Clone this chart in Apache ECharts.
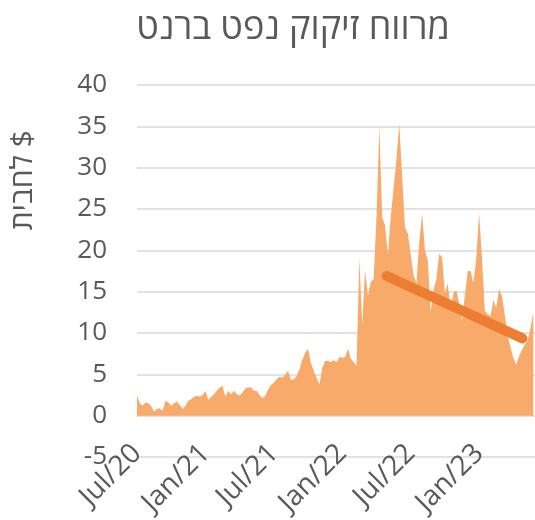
<!DOCTYPE html>
<html>
<head>
<meta charset="utf-8">
<script src="https://cdn.jsdelivr.net/npm/echarts@6/dist/echarts.min.js"></script>
<style>
  html, body { margin: 0; padding: 0; background: #fff; }
  #main { width: 535px; height: 520px; }
</style>
</head>
<body>
<div id="main"></div>
<script>
// months since Jul/20, one sample every quarter month
var sampleStep = 0.25;
var tickMonths = [0, 6, 12, 18, 24, 30];
var tickLabels = ['Jul/20', 'Jan/21', 'Jul/21', 'Jan/22', 'Jul/22', 'Jan/23'];

// crack spread, $ per barrel
var spread = [
  2.4, 1.5, 1.2, 1.6, 1.5, 1.1, 0.5, 0.8, 0.9, 0.6,
  1.8, 1.6, 1.2, 1.5, 1.7, 1.3, 0.8, 1.2, 1.8, 2.0,
  2.3, 2.4, 2.3, 2.5, 3.0, 1.9, 2.3, 2.6, 3.0, 3.4,
  3.6, 2.3, 3.0, 2.6, 3.0, 2.6, 2.4, 2.8, 3.3, 3.4,
  3.4, 3.0, 3.0, 2.5, 2.1, 2.4, 3.2, 3.7, 4.0, 4.4,
  4.7, 4.6, 5.0, 5.4, 4.3, 4.4, 4.8, 5.6, 6.8, 7.6,
  8.1, 6.4, 5.4, 4.6, 3.8, 5.8, 6.6, 6.6, 6.5, 6.7,
  6.5, 7.1, 7.0, 7.1, 8.1, 6.9, 6.5, 6.0, 19.0, 11.0,
  17.6, 14.5, 16.2, 16.5, 24.0, 35.0, 24.0, 23.0, 19.5, 24.0,
  27.5, 31.0, 35.3, 28.9, 22.8, 22.0, 19.5, 17.0, 16.0, 21.0,
  24.5, 20.0, 18.8, 12.5, 15.2, 16.5, 19.6, 19.2, 14.8, 16.0,
  12.9, 14.8, 15.2, 13.5, 11.5, 14.5, 17.5, 17.5, 16.0, 19.0,
  24.5, 19.0, 12.7, 12.3, 12.0, 14.0, 13.0, 15.3, 14.5, 12.2,
  9.6, 8.3, 7.0, 6.2, 7.2, 7.9, 8.6, 9.1, 10.5, 12.5
];

// trend line end points [month, value]
var trendStart = [21.9, 16.9];
var trendEnd = [33.8, 9.35];

var yTicks = { min: -5, max: 40, step: 5 };
var xMax = 34.9;

var areaData = spread.map(function (v, i) { return [i * sampleStep, v]; });

var myChart = echarts.init(document.getElementById('main'));
var txt = '#595959';
var font = '"Open Sans", "DejaVu Sans", sans-serif';

myChart.setOption({
  animation: false,
  title: {
    text: 'מרווח זיקוק נפט ברנט',
    left: 288,
    textAlign: 'center',
    top: 6,
    textStyle: { color: txt, fontSize: 36, fontWeight: 'normal', fontFamily: font }
  },
  grid: { left: 137, right: 0, top: 85, bottom: 63, outerBoundsMode: 'none' },
  graphic: [{
    type: 'text',
    left: 8,
    top: 130,
    rotation: Math.PI / 2,
    style: { text: 'לחבית $', fill: txt, fontSize: 30, fontFamily: font }
  }],
  xAxis: {
    type: 'value',
    min: 0,
    max: xMax,
    axisLine: { show: false },
    axisTick: { show: false },
    splitLine: { show: false },
    axisLabel: {
      customValues: tickMonths,
      rotate: 45,
      margin: -8,
      color: txt,
      fontSize: 28,
      fontFamily: font,
      formatter: function (v) {
        var k = tickMonths.indexOf(Math.round(v));
        return k >= 0 ? tickLabels[k] : '';
      }
    }
  },
  yAxis: {
    type: 'value',
    min: yTicks.min,
    max: yTicks.max,
    interval: yTicks.step,
    axisLine: { show: false },
    axisTick: { show: false },
    axisLabel: { color: txt, fontSize: 26, fontFamily: font, margin: 30 },
    splitLine: { lineStyle: { color: '#d9d9d9', width: 1.5 } }
  },
  series: [
    {
      type: 'line',
      data: areaData,
      symbol: 'none',
      lineStyle: { width: 0 },
      areaStyle: { color: '#f7aa6a', opacity: 1, origin: 0 }
    },
    {
      type: 'line',
      data: [trendStart, trendEnd],
      symbol: 'none',
      lineStyle: { color: '#ed7d31', width: 10, cap: 'round' }
    }
  ]
});
</script>
</body>
</html>
